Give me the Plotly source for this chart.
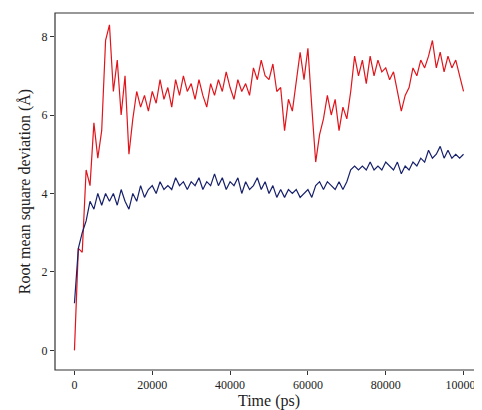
import plotly.graph_objects as go

time_ps = list(range(0, 100001, 1000))

red_rmsd = [0.0, 2.6, 2.5, 4.6, 4.2, 5.8, 4.9, 5.6, 7.9, 8.3,
            6.6, 7.4, 6.0, 7.0, 5.0, 5.9, 6.6, 6.2, 6.5, 6.1,
            6.6, 6.3, 6.9, 6.4, 6.7, 6.2, 6.9, 6.5, 7.0, 6.6,
            6.8, 6.4, 6.9, 6.5, 6.2, 6.8, 6.5, 6.9, 6.6, 7.1,
            6.7, 6.4, 6.9, 6.6, 6.8, 6.5, 7.2, 6.9, 7.4, 7.0,
            6.9, 7.3, 6.6, 6.7, 5.6, 6.4, 6.1, 6.9, 7.6, 6.9,
            7.7, 6.2, 4.8, 5.5, 5.9, 6.5, 6.0, 6.4, 5.6, 6.2,
            5.9, 6.6, 7.5, 7.0, 7.4, 6.8, 7.5, 7.0, 7.4, 7.1,
            7.2, 6.9, 7.1, 6.6, 6.1, 6.5, 6.7, 7.2, 7.0, 7.4,
            7.2, 7.5, 7.9, 7.2, 7.6, 7.1, 7.5, 7.2, 7.4, 7.0, 6.6]

blue_rmsd = [1.2, 2.6, 3.0, 3.3, 3.8, 3.6, 4.0, 3.7, 4.0, 3.8,
             4.0, 3.7, 4.1, 3.8, 3.6, 4.0, 3.8, 4.2, 3.9, 4.1,
             4.2, 4.0, 4.3, 4.1, 4.2, 4.1, 4.4, 4.2, 4.3, 4.1,
             4.3, 4.2, 4.4, 4.1, 4.3, 4.2, 4.5, 4.2, 4.4, 4.1,
             4.3, 4.2, 4.4, 4.0, 4.3, 4.1, 4.2, 4.4, 4.1, 4.3,
             4.0, 4.2, 3.9, 4.1, 3.9, 4.1, 4.0, 4.1, 3.9, 4.0,
             4.1, 3.9, 4.2, 4.3, 4.1, 4.3, 4.2, 4.1, 4.3, 4.1,
             4.3, 4.6, 4.7, 4.6, 4.7, 4.6, 4.8, 4.6, 4.7, 4.6,
             4.8, 4.7, 4.6, 4.8, 4.5, 4.7, 4.6, 4.8, 4.7, 4.9,
             4.8, 5.1, 4.9, 5.0, 5.2, 4.9, 5.1, 4.9, 5.0, 4.9, 5.0]

x_ticks = [0, 20000, 40000, 60000, 80000, 100000]
y_ticks = [0, 2, 4, 6, 8]

fig = go.Figure()
fig.add_trace(go.Scatter(x=time_ps, y=red_rmsd, mode='lines',
                         line=dict(color='#e0141b', width=1.2)))
fig.add_trace(go.Scatter(x=time_ps, y=blue_rmsd, mode='lines',
                         line=dict(color='#17206a', width=1.2)))

# frame around the plot area
fig.add_shape(type='rect', xref='paper', yref='paper', x0=0, y0=0, x1=1, y1=1,
              line=dict(color='#333', width=1.2))

axis = dict(showline=False, ticks='outside', ticklen=4, tickcolor='#333',
            showgrid=False, zeroline=False, automargin=False,
            tickfont=dict(size=12, color='#222'))
fig.update_layout(
    width=482, height=410, showlegend=False,
    margin=dict(l=47, r=7, t=5, b=48),
    plot_bgcolor='white', paper_bgcolor='white',
    font=dict(family='Liberation Serif', size=13, color='#222'),
    xaxis=dict(axis, range=[-5000, 105000], tickvals=x_ticks,
               ticktext=[str(v) for v in x_ticks],
               title=dict(text='Time (ps)', standoff=2)),
    yaxis=dict(axis, range=[-0.5, 8.6], tickvals=y_ticks,
               title=dict(text='Root mean square deviation (Å)', standoff=6)),
)
fig.write_html("out.html")
